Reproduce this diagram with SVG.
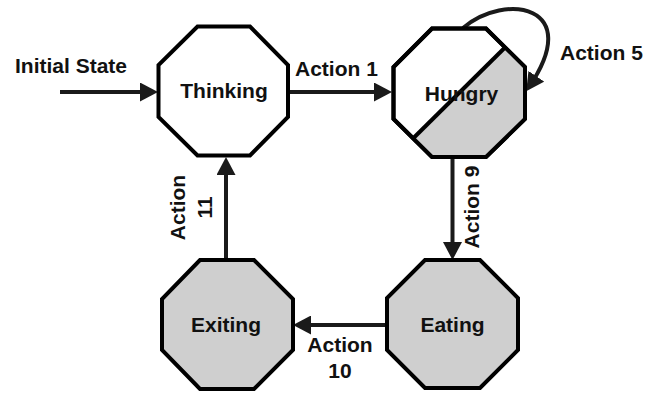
<svg xmlns="http://www.w3.org/2000/svg" width="647" height="393" viewBox="0 0 647 393">
<style>
.oct{fill:#ffffff;stroke:#000;stroke-width:4;stroke-linejoin:miter}
.gray{fill:#cfcfcf}
.lbl{font-family:"Liberation Sans",Arial,sans-serif;font-weight:bold;font-size:21px;fill:#111}
.mid{text-anchor:middle}
.edge{fill:none;stroke:#1a1a1a;stroke-width:4}
</style>
<defs>
<marker id="ah" markerUnits="userSpaceOnUse" markerWidth="18" markerHeight="19" refX="13" refY="9.5" orient="auto">
<path d="M0,0 L18,9.5 L0,19 z" fill="#1a1a1a"/>
</marker>
</defs>
<rect width="647" height="393" fill="#fff"/>
<g id="connectors">
<line class="edge" x1="60" y1="92" x2="153" y2="92" marker-end="url(#ah)"/>
<line class="edge" x1="288" y1="92" x2="387" y2="92" marker-end="url(#ah)"/>
<path class="edge" d="M463,28 C505,-8 585,5 529,87" marker-end="url(#ah)"/>
<line class="edge" x1="452.5" y1="157" x2="452.5" y2="255" marker-end="url(#ah)"/>
<line class="edge" x1="387" y1="325" x2="298" y2="325" marker-end="url(#ah)"/>
<line class="edge" x1="226" y1="260" x2="226" y2="162" marker-end="url(#ah)"/>
</g>
<g id="thinking">
<polygon class="oct" points="197.5,26.5 250,26.5 288,65 288,117 250,155.5 197.5,155.5 158.5,117 158.5,65"/>
<text class="lbl mid" x="224" y="98">Thinking</text>
</g>
<g id="hungry">
<polygon class="oct" points="432,28.5 486,28.5 525,67 525,119 486,157 432,157 393.5,119 393.5,67"/>
<polygon class="gray" points="505,47.5 525,67 525,119 486,157 432,157 413,138.5"/>
<polygon points="432,28.5 486,28.5 525,67 525,119 486,157 432,157 393.5,119 393.5,67" fill="none" stroke="#000" stroke-width="4"/>
<line x1="505" y1="47.5" x2="413" y2="138.5" stroke="#000" stroke-width="4"/>
<text class="lbl mid" x="461.5" y="100.5">Hungry</text>
</g>
<g id="eating">
<polygon class="oct gray" points="425,260 480,260 518,298 518,350 480,388 425,388 387,350 387,298" style="fill:#cfcfcf"/>
<text class="lbl mid" x="452.5" y="331.5">Eating</text>
</g>
<g id="exiting">
<polygon class="oct" points="200,260 254,260 293,299 293,350 254,389 200,389 162,350 162,299" style="fill:#cfcfcf"/>
<text class="lbl mid" x="226" y="332">Exiting</text>
</g>
<g id="labels">
<text class="lbl" x="15" y="72.5">Initial State</text>
<text class="lbl" x="295" y="76">Action 1</text>
<text class="lbl" x="560" y="60">Action 5</text>
<text class="lbl mid" transform="translate(479,207) rotate(-90)">Action 9</text>
<text class="lbl mid" x="340" y="352">Action</text>
<text class="lbl mid" x="340" y="378">10</text>
<text class="lbl mid" transform="translate(185,207.5) rotate(-90)">Action</text>
<text class="lbl mid" transform="translate(211.5,207.5) rotate(-90)">11</text>
</g>
</svg>
